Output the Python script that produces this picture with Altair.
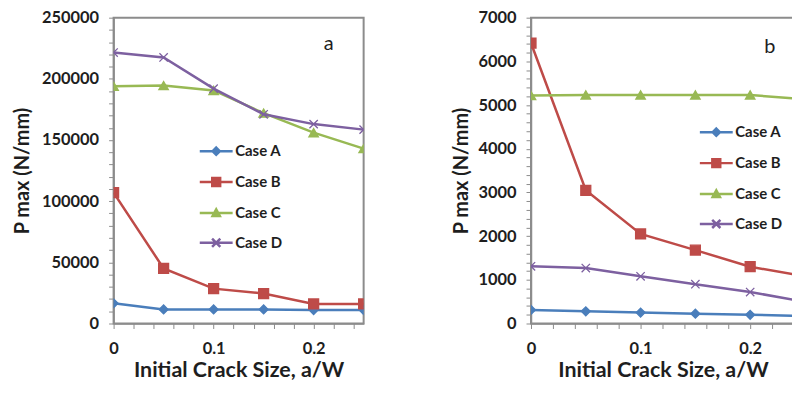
import altair as alt
import pandas as pd

x_vals = [0, 0.05, 0.1, 0.15, 0.2, 0.25]
cases = ["Case A", "Case B", "Case C", "Case D"]

a_case_a = [16500, 11500, 11500, 11500, 11000, 11000]
a_case_b = [107000, 45000, 28500, 24500, 16000, 16000]
a_case_c = [194000, 194500, 190500, 172000, 156000, 143000]
a_case_d = [221500, 217500, 192000, 171000, 163000, 158500]

b_case_a = [310, 280, 250, 225, 200, 170]
b_case_b = [6420, 3050, 2050, 1680, 1300, 1080]
b_case_c = [5220, 5230, 5230, 5230, 5230, 5130]
b_case_d = [1310, 1270, 1080, 900, 720, 500]

a_y_ticks = list(range(0, 250001, 10000))
b_y_ticks = list(range(0, 7001, 200))
x_ticks = [0, 0.02, 0.04, 0.06, 0.08, 0.1, 0.12, 0.14, 0.16, 0.18, 0.2, 0.22, 0.24]

colors = ["#4A7EBB", "#BE4B48", "#98B954", "#7D60A0"]
point_shapes = ["diamond", "square", "triangle-up", "M-1,-1L1,1M-1,1L1,-1"]
point_sizes = [80, 100, 90, 70]
legend_paths = [
    "M-1,0L1,0M0,-0.22L0.22,0L0,0.22L-0.22,0Z",
    "M-1,0L1,0M-0.24,-0.24L0.24,-0.24L0.24,0.24L-0.24,0.24Z",
    "M-1,0L1,0M0,-0.22L0.22,0.18L-0.22,0.18Z",
    "M-1,0L1,0M-0.25,-0.25L0.25,0.25M-0.25,0.25L0.25,-0.25",
]

FONT = "Lato"
TXT = "#1e1e1e"
AXC = "#8c8c8c"


def panel(series, y_domain, y_ticks, y_major, x_domain, width, letter, letter_pos,
          legend_xy, title_pad, label_size):
    rows = []
    for c, vals in zip(cases, series):
        for xv, yv in zip(x_vals, vals):
            rows.append({"x": xv, "y": yv, "case": c})
    df = pd.DataFrame(rows)

    x_enc = alt.X(
        "x:Q",
        scale=alt.Scale(domain=x_domain, nice=False, zero=False),
        axis=alt.Axis(
            values=x_ticks,
            labelExpr="abs(datum.value*10 - round(datum.value*10)) < 1e-6 ? datum.label : ''",
            format="~g",
            grid=False,
            tickSize=5,
            tickColor=AXC,
            domainColor=AXC,
            domainWidth=1.5,
            labelFont=FONT,
            labelFontSize=16.5,
            labelFontWeight="bold",
            labelColor=TXT,
            labelPadding=12,
            labelOverlap=False,
            labelFlush=False,
            title="Initial Crack Size, a/W",
            titleFont=FONT,
            titleFontSize=21.5,
            titleFontWeight="bold",
            titleColor=TXT,
            titlePadding=3,
        ),
    )
    y_enc = alt.Y(
        "y:Q",
        scale=alt.Scale(domain=y_domain, nice=False),
        axis=alt.Axis(
            values=y_ticks,
            labelExpr=f"datum.value % {y_major} === 0 ? datum.label : ''",
            format="d",
            grid=False,
            tickSize=5,
            tickColor=AXC,
            domainColor=AXC,
            domainWidth=1.5,
            labelFont=FONT,
            labelFontSize=label_size,
            labelFontWeight="bold",
            labelColor=TXT,
            labelPadding=10,
            labelOverlap=False,
            title="P max (N/mm)",
            titleFont=FONT,
            titleFontSize=20,
            titleFontWeight="bold",
            titleColor=TXT,
            titlePadding=title_pad,
        ),
    )

    base = alt.Chart(df)
    layers = []
    for c, col, shp, sz in zip(cases, colors, point_shapes, point_sizes):
        d = base.transform_filter(alt.datum.case == c)
        layers.append(
            d.mark_line(color=col, strokeWidth=2.5, clip=True).encode(x=x_enc, y=y_enc)
        )
        layers.append(
            d.transform_filter(alt.datum.x <= x_domain[1])
            .mark_point(shape=shp, size=sz, filled=True, fill=col, stroke=col,
                        strokeWidth=1.3, opacity=1, clip=True)
            .encode(x=x_enc, y=y_enc)
        )

    leg = alt.Legend(
        title=None,
        orient="none",
        legendX=legend_xy[0],
        legendY=legend_xy[1],
        symbolSize=1089,
        symbolStrokeWidth=2.5,
        labelFont=FONT,
        labelFontSize=15,
        labelFontWeight="bold",
        labelColor=TXT,
        labelOffset=1,
        rowPadding=4,
        padding=0,
        symbolOffset=0,
    )
    legend_layer = base.transform_filter("false").mark_point(
        filled=True, opacity=1
    ).encode(
        fill=alt.Fill("case:N", scale=alt.Scale(domain=cases, range=colors), legend=leg),
        stroke=alt.Stroke("case:N", scale=alt.Scale(domain=cases, range=colors), legend=leg),
        shape=alt.Shape("case:N", scale=alt.Scale(domain=cases, range=legend_paths), legend=leg),
    )
    layers.append(legend_layer)

    tdf = pd.DataFrame({"x": [letter_pos[0]], "y": [letter_pos[1]], "t": [letter]})
    layers.append(
        alt.Chart(tdf).mark_text(font=FONT, fontSize=20, color=TXT).encode(
            x=x_enc, y=y_enc, text="t:N"
        )
    )
    return alt.layer(*layers).properties(width=width, height=307)


left = panel([a_case_a, a_case_b, a_case_c, a_case_d], [0, 250000], a_y_ticks, 50000,
             [0, 0.25], 251, "a", (0.215, 228500), (85, 116), 9, 16.5)
right = panel([b_case_a, b_case_b, b_case_c, b_case_d], [0, 7000], b_y_ticks, 1000,
              [0, 0.2409], 265, "b", (0.218, 6330), (168, 97), 6, 16.5)

chart = (
    alt.hconcat(left, right, spacing=86)
    .resolve_scale(x="independent", y="independent", fill="independent",
                   stroke="independent", shape="independent")
    .resolve_legend(fill="independent", stroke="independent", shape="independent")
    .properties(padding={"left": 3, "top": 0, "right": -4, "bottom": 0})
    .configure_view(stroke=AXC, strokeWidth=2)
)

chart.save("out.html", embed_options={"renderer": "svg", "actions": False})
